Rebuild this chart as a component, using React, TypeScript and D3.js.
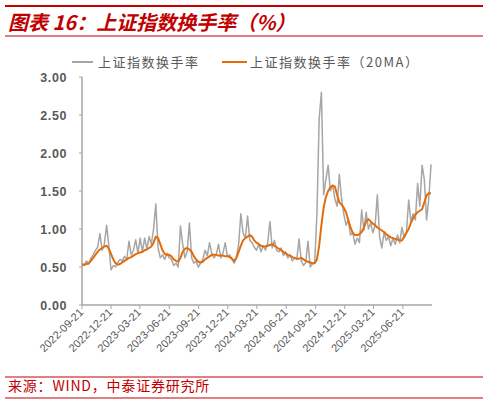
import * as d3 from 'd3'

// weekly samples starting 2022-09-21
const startDate = new Date(2022, 8, 21)

const turnover = [
  0.55, 0.52, 0.58, 0.54, 0.62, 0.66, 0.72, 0.76, 0.94, 0.72,
  0.8, 1.05, 0.78, 0.46, 0.52, 0.5, 0.56, 0.6, 0.58, 0.64,
  0.6, 0.84, 0.66, 0.72, 0.86, 0.68, 0.88, 0.7, 0.88, 0.74,
  0.9, 0.8, 1.0, 1.33, 0.75, 0.62, 0.66, 0.6, 0.68, 0.62,
  0.6, 0.52, 0.55, 0.5, 1.04, 0.8, 0.62, 0.7, 1.08, 0.62,
  0.55, 0.58, 0.5, 0.55, 0.6, 0.72, 0.65, 0.82, 0.68, 0.62,
  0.66, 0.8, 0.62, 0.68, 0.82, 0.64, 0.66, 0.6, 0.55, 0.62,
  0.8, 1.2, 0.95, 0.88, 1.17, 0.85, 0.82, 0.76, 0.72, 0.8,
  0.7, 0.78, 0.72, 0.82, 1.1, 0.75, 0.85, 0.72, 0.7, 0.75,
  0.65, 0.7, 0.62, 0.66, 0.58, 0.62, 0.6, 0.87, 0.58, 0.52,
  0.56, 0.84, 0.5, 0.54, 0.56, 1.2, 2.45, 2.8, 1.45, 1.65,
  1.84, 1.5, 1.58, 1.4, 1.3, 1.72, 1.4, 1.2, 1.05, 1.12,
  0.92, 0.95, 0.8, 0.88, 0.82, 1.25, 0.98, 1.22, 1.0, 1.08,
  0.95, 1.05, 1.45, 0.9, 0.75, 0.95, 0.85, 0.9, 0.78, 0.88,
  0.8, 0.92, 0.82, 1.02, 0.88, 0.95, 1.38, 1.1, 1.2, 1.12,
  1.6, 1.3, 1.84, 1.65, 1.12, 1.4, 1.85,
]

const turnoverMA20 = [
  0.53, 0.53, 0.54, 0.55, 0.58, 0.62, 0.66, 0.7, 0.73, 0.75,
  0.77, 0.78, 0.74, 0.67, 0.6, 0.55, 0.53, 0.54, 0.56, 0.58,
  0.6, 0.62, 0.63, 0.65, 0.67, 0.68, 0.69, 0.7, 0.72, 0.73,
  0.75, 0.77, 0.82, 0.9, 0.88, 0.8, 0.72, 0.67, 0.66, 0.66,
  0.64, 0.6, 0.58, 0.57, 0.62, 0.7, 0.74, 0.75, 0.73, 0.7,
  0.64, 0.6, 0.57, 0.56, 0.57, 0.6, 0.62, 0.64, 0.66, 0.66,
  0.66, 0.65, 0.65, 0.65, 0.64, 0.64, 0.63, 0.61, 0.58, 0.62,
  0.7, 0.78, 0.85, 0.88, 0.9, 0.92, 0.9, 0.85, 0.82, 0.8,
  0.78, 0.77, 0.77, 0.78, 0.79, 0.8, 0.78, 0.76, 0.74, 0.72,
  0.7, 0.68, 0.66, 0.65, 0.63, 0.62, 0.61, 0.61, 0.62, 0.6,
  0.58, 0.57, 0.56, 0.55, 0.55, 0.6, 0.78, 1.05, 1.28, 1.42,
  1.5, 1.55, 1.57, 1.56, 1.45, 1.35, 1.32, 1.28, 1.22, 1.12,
  1.02, 0.95, 0.92, 0.92, 0.93, 0.96, 1.02, 1.1, 1.13, 1.1,
  1.07, 1.05, 1.02, 1.0, 0.98, 0.96, 0.93, 0.91, 0.89, 0.88,
  0.87, 0.86, 0.85, 0.85, 0.9, 0.95, 1.0, 1.08, 1.14, 1.19,
  1.22, 1.24, 1.26, 1.35, 1.44, 1.47, 1.47,
]

const yTicks = [0, 0.5, 1, 1.5, 2, 2.5, 3]
const xTickLabels = [
  '2022-09-21', '2022-12-21', '2023-03-21', '2023-06-21',
  '2023-09-21', '2023-12-21', '2024-03-21', '2024-06-21',
  '2024-09-21', '2024-12-21', '2025-03-21', '2025-06-21',
]

const W = 488
const H = 405
const red = '#C00000'
const grayText = '#595959'
const axisGray = '#A6A6A6'
const cjk = '"Noto Sans CJK SC", "Liberation Sans", sans-serif'

const dateAt = (i: number) => d3.timeDay.offset(startDate, i * 7)
const parse = d3.timeParse('%Y-%m-%d')

export default function App() {
  const x = d3.scaleTime()
    .domain([startDate, new Date(2025, 8, 20)])
    .range([82, 432])
  const y = d3.scaleLinear().domain([0, 3]).range([305, 77])

  const line = d3.line<number>()
    .x((_, i) => x(dateAt(i)))
    .y(d => y(d))

  const xTicks = xTickLabels.map(s => ({ label: s, date: parse(s) as Date }))

  return (
    <svg width={W} height={H} style={{ position: 'absolute', left: 0, top: 0, background: '#fff' }}>
      {/* header */}
      <line x1={5} x2={483} y1={6} y2={6} stroke={red} strokeWidth={2} />
      <text x={8} y={30} fill={red} fontFamily={cjk} fontSize={20} fontWeight="bold" fontStyle="italic">
        图表 16：上证指数换手率（%）
      </text>
      <line x1={5} x2={483} y1={36} y2={36} stroke={red} strokeWidth={1} />

      {/* legend */}
      <line x1={72} x2={93} y1={62} y2={62} stroke={axisGray} strokeWidth={2} />
      <text x={98} y={66.5} fill={grayText} fontFamily={cjk} fontSize={13} letterSpacing={1.5}>
        上证指数换手率
      </text>
      <line x1={222} x2={247} y1={62} y2={62} stroke="#E46C0A" strokeWidth={2} />
      <text x={250} y={66.5} fill={grayText} fontFamily={cjk} fontSize={13} letterSpacing={1.5}>
        上证指数换手率（20MA）
      </text>

      {/* y axis */}
      <line x1={82} x2={82} y1={77} y2={305} stroke={axisGray} strokeWidth={1.5} />
      {yTicks.map(t => (
        <g key={t}>
          <line x1={79} x2={82} y1={y(t)} y2={y(t)} stroke={axisGray} />
          <text x={67} y={y(t) + 4.5} textAnchor="end" fill={grayText}
            fontFamily="Liberation Sans, Arial, sans-serif" fontSize={12.5} fontWeight="bold" letterSpacing={0.6}>
            {d3.format('.2f')(t)}
          </text>
        </g>
      ))}

      {/* x axis */}
      <line x1={82} x2={432} y1={305} y2={305} stroke={axisGray} strokeWidth={1.5} />
      {xTicks.map(t => {
        const tx = x(t.date)
        return (
          <g key={t.label}>
            <line x1={tx} x2={tx} y1={305} y2={309} stroke={axisGray} />
            <text transform={`translate(${tx + 2},${313}) rotate(-45)`} textAnchor="end"
              fill={grayText} fontFamily="Liberation Sans, Arial, sans-serif" fontSize={11}>
              {t.label}
            </text>
          </g>
        )
      })}

      {/* series */}
      <path d={line(turnover) ?? ''} fill="none" stroke={axisGray} strokeWidth={1.5} strokeLinejoin="round" />
      <path d={line(turnoverMA20) ?? ''} fill="none" stroke="#E46C0A" strokeWidth={2} strokeLinejoin="round" />

      {/* footer */}
      <line x1={5} x2={483} y1={377} y2={377} stroke={red} strokeWidth={1} />
      <text x={8} y={391} fill={red} fontFamily={cjk} fontSize={14} letterSpacing={0.8}>
        来源：WIND，中泰证券研究所
      </text>
      <line x1={5} x2={483} y1={398} y2={398} stroke={red} strokeWidth={1} />
    </svg>
  )
}
